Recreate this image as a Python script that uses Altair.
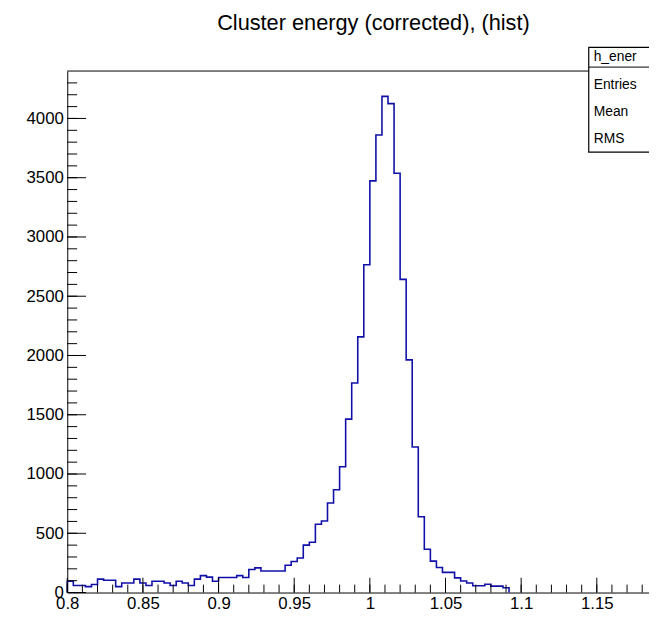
import altair as alt
import pandas as pd
import numpy as np

bin_width = 0.004
x_start = 0.8
counts = [95, 60, 60, 50, 68, 113, 103, 103, 50, 81,
          81, 113, 81, 60, 95, 95, 81, 60, 95, 81,
          60, 113, 143, 130, 95, 127, 127, 127, 143, 127,
          194, 208, 181, 181, 181, 181, 230, 262, 292, 400,
          424, 576, 604, 756, 867, 1061, 1463, 1768, 2157, 2766,
          3473, 3861, 4186, 4125, 3537, 2642, 1963, 1228, 640, 365,
          265, 211, 170, 170, 124, 97, 81, 57, 57, 70,
          54, 54, 40, 0, 0, 0, 0, 0, 0, 0,
          0, 0, 0, 0, 0, 0, 0, 0, 0, 0,
          0, 0, 0, 0, 0, 0, 0, 0, 0, 0]
x_major = [0.8, 0.85, 0.9, 0.95, 1.0, 1.05, 1.1, 1.15]
x_minor = [round(0.8 + 0.01 * i, 2) for i in range(39)]
y_major = [0, 500, 1000, 1500, 2000, 2500, 3000, 3500, 4000]
y_minor = list(range(0, 4400, 100))
stat_labels = ["h_ener", "Entries", "Mean", "RMS"]

last = max(i for i, c in enumerate(counts) if c > 0)
used = counts[:last + 1]
edges = [round(x_start + bin_width * i, 4) for i in range(len(used) + 1)]
hist = pd.DataFrame({"x": [x_start] + edges + [edges[-1]],
                     "y": [0] + used + [used[-1], 0]})
hist["o"] = range(len(hist))

W, H = 589, 528
xs = alt.Scale(domain=[0.8, 1.1845], nice=False, zero=False)
ys = alt.Scale(domain=[0, 4400], nice=False)
font = "Liberation Sans"

base_axes = alt.Chart(pd.DataFrame({"x": [0.8], "y": [0]})).mark_point(opacity=0).encode(
    x=alt.X("x:Q", scale=xs, axis=alt.Axis(values=x_major, ticks=False, grid=False,
            labelFontSize=17, labelFont=font, labelColor="black", domainColor="black",
            labelPadding=3, title=None, labelFlush=False, format="~g")),
    y=alt.Y("y:Q", scale=ys, axis=alt.Axis(values=y_major, ticks=False, grid=False,
            labelFontSize=17, labelFont=font, labelColor="black", domainColor="black",
            labelPadding=4, title=None, format="d")))

line = alt.Chart(hist).mark_line(interpolate="step-after", color="#1010a8",
                                 strokeWidth=1.6).encode(
    x=alt.X("x:Q", scale=xs), y=alt.Y("y:Q", scale=ys), order="o:Q")

xmaj = alt.Chart(pd.DataFrame({"x": x_major})).mark_rule(color="black").encode(
    x=alt.X("x:Q", scale=xs), y=alt.value(H), y2=alt.value(H - 15))
xmin = alt.Chart(pd.DataFrame({"x": x_minor})).mark_rule(color="black").encode(
    x=alt.X("x:Q", scale=xs), y=alt.value(H), y2=alt.value(H - 8))
ymaj = alt.Chart(pd.DataFrame({"y": y_major})).mark_rule(color="black").encode(
    y=alt.Y("y:Q", scale=ys), x=alt.value(0), x2=alt.value(19))
ymin = alt.Chart(pd.DataFrame({"y": y_minor})).mark_rule(color="black").encode(
    y=alt.Y("y:Q", scale=ys), x=alt.value(0), x2=alt.value(10))

top = alt.Chart(pd.DataFrame({"a": [0]})).mark_rule(color="black").encode(
    x=alt.value(0), x2=alt.value(W), y=alt.value(0))

box = alt.Chart(pd.DataFrame({"a": [0]})).mark_rect(fill="white", stroke="black",
                                                    strokeWidth=1.2).encode(
    x=alt.value(528), x2=alt.value(640), y=alt.value(-24), y2=alt.value(82))
boxline = alt.Chart(pd.DataFrame({"a": [0]})).mark_rule(color="black").encode(
    x=alt.value(528), x2=alt.value(640), y=alt.value(-4))
stat = alt.Chart(pd.DataFrame({"t": stat_labels, "yy": [-14, 14, 42, 69]})).mark_text(
    align="left", baseline="middle", fontSize=14, font=font, color="black").encode(
    x=alt.value(533), y=alt.Y("yy:Q", scale=None), text="t:N")

title = alt.Chart(pd.DataFrame({"t": ["Cluster energy (corrected), (hist)"]})).mark_text(
    align="center", baseline="middle", fontSize=22, font=font, color="black").encode(
    x=alt.value(310), y=alt.value(-49), text="t:N")

chart = alt.layer(base_axes, line, xmaj, xmin, ymaj, ymin, top, box, boxline, stat, title).properties(
    width=W, height=H, autosize=alt.AutoSizeParams(type="none"),
    padding={"left": 60, "top": 60, "right": 0, "bottom": 26}
).configure_view(stroke=None)

chart.save("out.html", embed_options={"renderer": "svg", "actions": False})
